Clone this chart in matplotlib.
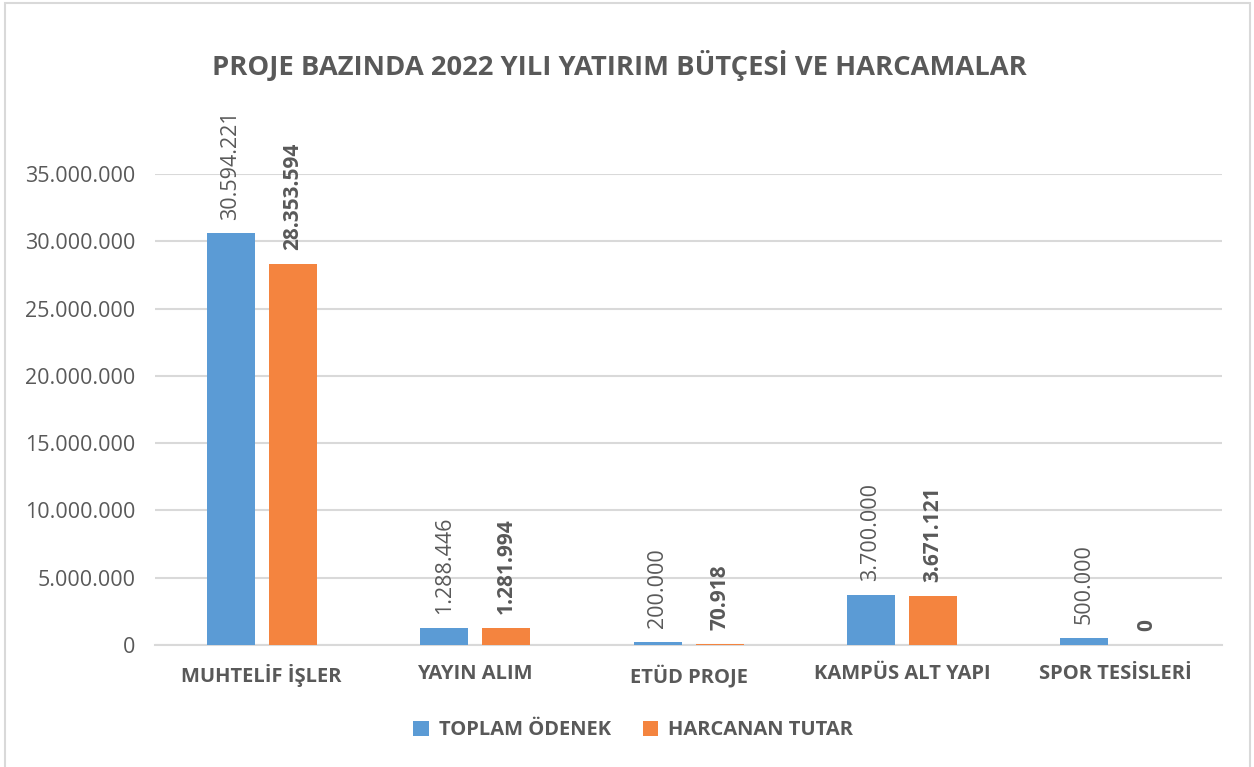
import matplotlib
matplotlib.use("Agg")
import matplotlib.pyplot as plt
from matplotlib.patches import Rectangle
from matplotlib.ticker import FuncFormatter

categories = ["MUHTELİF İŞLER", "YAYIN ALIM", "ETÜD PROJE", "KAMPÜS ALT YAPI", "SPOR TESİSLERİ"]
toplam_odenek = [30594221, 1288446, 200000, 3700000, 500000]
harcanan_tutar = [28353594, 1281994, 70918, 3671121, 0]
series_names = ["TOPLAM ÖDENEK", "HARCANAN TUTAR"]
title = "PROJE BAZINDA 2022 YILI YATIRIM BÜTÇESİ VE HARCAMALAR"

blue = "#5B9BD5"
orange = "#F4843F"
gray = "#595959"
grid_gray = "#D9D9D9"


def tr_fmt(v):
    # Turkish thousands separator is a dot
    return f"{int(round(v)):,}".replace(",", ".")


fig = plt.figure(figsize=(12.54, 7.67), dpi=100)
ax = fig.add_axes([0.1236, 0.159, 0.851, 0.614])

x = list(range(len(categories)))
offset = 0.145
width = 0.225
xb = [i - offset for i in x]
xo = [i + offset for i in x]

ax.bar(xb, toplam_odenek, width=width, color=blue, label=series_names[0], zorder=3)
ax.bar(xo, harcanan_tutar, width=width, color=orange, label=series_names[1], zorder=3)

for xi, v in zip(xb, toplam_odenek):
    ax.annotate(tr_fmt(v), (xi, v), xytext=(0, 10), textcoords="offset points",
                rotation=90, ha="center", va="bottom", fontsize=15.5,
                family="Open Sans", color=gray, annotation_clip=False)
for xi, v in zip(xo, harcanan_tutar):
    ax.annotate(tr_fmt(v), (xi, v), xytext=(0, 10), textcoords="offset points",
                rotation=90, ha="center", va="bottom", fontsize=15, fontweight="bold",
                family="Open Sans", color=gray, annotation_clip=False)

ax.set_xlim(-0.5, len(categories) - 0.5)
ax.set_ylim(0, 35000000)
ax.set_yticks(range(0, 35000001, 5000000))
ax.yaxis.set_major_formatter(FuncFormatter(lambda v, p: tr_fmt(v)))
ax.set_xticks(x)
ax.set_xticklabels(categories, fontsize=14.5, fontweight="bold", family="Open Sans", color=gray)
for lab in ax.get_yticklabels():
    lab.set_fontsize(15.5)
    lab.set_family("Open Sans")
    lab.set_color(gray)

ax.tick_params(axis="both", length=0)
ax.tick_params(axis="y", pad=14)
ax.tick_params(axis="x", pad=14)
ax.grid(axis="y", color=grid_gray, linewidth=1.5, zorder=0)
for s in ["top", "right", "left"]:
    ax.spines[s].set_visible(False)
ax.spines["bottom"].set_color(grid_gray)
ax.spines["bottom"].set_linewidth(1.5)

fig.text(0.494, 0.915, title, ha="center", va="center", fontsize=19.7,
         fontweight="bold", family="Open Sans", color=gray)

leg = fig.legend(loc="center", bbox_to_anchor=(0.505, 0.048), ncol=2, frameon=False,
                 prop={"family": "Open Sans", "weight": "bold", "size": 14.5},
                 handlelength=0.75, handleheight=0.75, columnspacing=1.6, handletextpad=0.5)
for t in leg.get_texts():
    t.set_color(gray)

fig.patches.append(Rectangle((0.004, -0.01), 0.993, 1.006, transform=fig.transFigure,
                             fill=False, edgecolor=grid_gray, linewidth=1.5))

fig.savefig("out.png", dpi=100)
